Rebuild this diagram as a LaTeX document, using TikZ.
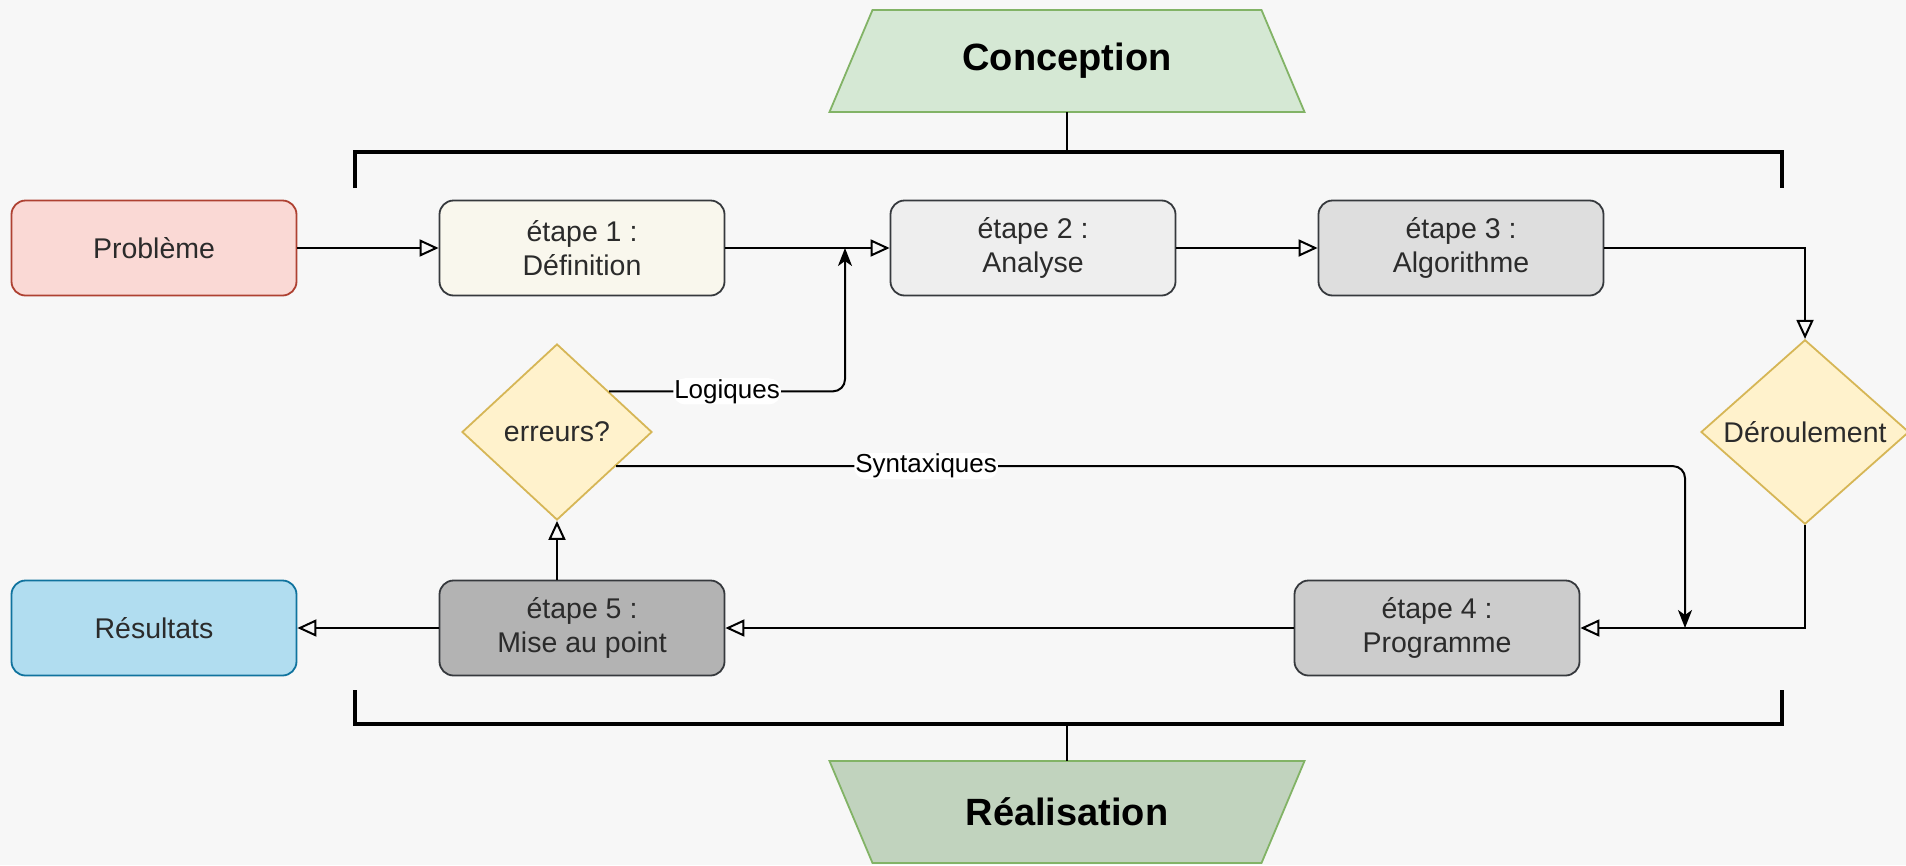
\documentclass[tikz,border=0pt]{standalone}
\usepackage{fontspec}
\setmainfont{Liberation Sans}
\usetikzlibrary{arrows.meta,shapes.geometric}

\definecolor{bg}{HTML}{F7F7F7}
\definecolor{txt}{HTML}{2B2B2B}
\definecolor{boxline}{HTML}{36393D}
\definecolor{redfill}{HTML}{FAD9D5}
\definecolor{redline}{HTML}{AE4132}
\definecolor{bluefill}{HTML}{B1DDF0}
\definecolor{blueline}{HTML}{10739E}
\definecolor{yellowfill}{HTML}{FFF2CC}
\definecolor{yellowline}{HTML}{D6B656}
\definecolor{greenfill}{HTML}{D5E8D4}
\definecolor{darkgreenfill}{HTML}{C1D3BE}
\definecolor{greenline}{HTML}{82B366}
\definecolor{fillA}{HTML}{F9F7ED}
\definecolor{fillB}{HTML}{EEEEEE}
\definecolor{fillC}{HTML}{DEDEDE}
\definecolor{fillD}{HTML}{CCCCCC}
\definecolor{fillE}{HTML}{B3B3B3}

\begin{document}
\begin{tikzpicture}[x=1pt, y=-1pt]

\def \boxw {285pt}
\def \boxh {95pt}

\tikzset{etape/.style = {align=center, draw=boxline, line width=1.8pt, rounded corners=14pt, minimum width=\boxw, minimum height=\boxh, text=txt, font=\fontsize{28.5}{34}\selectfont}}
\tikzset{choix/.style = {diamond, draw=yellowline, fill=yellowfill, line width=1.8pt, inner sep=0pt, text=txt, font=\fontsize{28.5}{34}\selectfont}}
\tikzset{titre/.style = {font=\bfseries\fontsize{38}{44}\selectfont, inner sep=0pt, minimum width=475pt, minimum height=102pt}}
\tikzset{flow/.style = {line width=2pt, -{Triangle[open, length=19pt, width=17pt]}}}
\tikzset{retour/.style = {line width=2pt, rounded corners=12pt, -{Stealth[length=18pt, width=14pt, inset=5pt]}}}
\tikzset{lbl/.style = {fill=white, inner sep=1pt, font=\fontsize{26}{30}\selectfont}}
\tikzset{bracket/.style = {line width=4.5pt}}

\useasboundingbox (0,0) rectangle (1906,865);
\fill[bg] (0,0) rectangle (1906,865);

% phases
\draw[greenline, fill=greenfill, line width=1.8pt] (872.5,10) -- (1261.5,10) -- (1304.5,112) -- (829.5,112) -- cycle;
\node[titre] (conc) at (1067,61) {Conception};
\draw[greenline, fill=darkgreenfill, line width=1.8pt] (829.5,761) -- (1304.5,761) -- (1261.5,863) -- (872.5,863) -- cycle;
\node[titre] (real) at (1067,812) {Réalisation};

\coordinate (topmid) at (1067,152);
\coordinate (botmid) at (1067,724);
\draw[bracket] (355,188) -- (355,152) -- (1782,152) -- (1782,188);
\draw[bracket] (355,690) -- (355,724) -- (1782,724) -- (1782,690);
\draw[line width=2pt] (conc.south) -- (topmid);
\draw[line width=2pt] (real.north) -- (botmid);

% boxes
\node[etape, draw=redline, fill=redfill] (prob) at (154,248) {Problème};
\node[etape, fill=fillA] (et1) at (582,248) {étape 1 :\\Définition};
\node[etape, fill=fillB] (et2) at (1033,248) {étape 2 :\\Analyse};
\node[etape, fill=fillC] (et3) at (1461,248) {étape 3 :\\Algorithme};
\node[etape, fill=fillD] (et4) at (1437,628) {étape 4 :\\Programme};
\node[etape, fill=fillE] (et5) at (582,628) {étape 5 :\\Mise au point};
\node[etape, draw=blueline, fill=bluefill] (res) at (154,628) {Résultats};

\node[choix, minimum width=208pt, minimum height=176pt] (der) at (1805,432) {Déroulement};
\node[choix, minimum width=190pt, minimum height=176pt] (err) at (557,432) {erreurs?};

% flow
\foreach \a/\b in {prob/et1, et1/et2, et2/et3, et4/et5, et5/res}
{
	\draw[flow] (\a) -- (\b);
}
\draw[flow] (err.south |- et5.north) -- (err.south);
\draw[flow] (et3.east) -| (der.north);
\draw[flow] (der.south) |- (et4.east);

% retours
\coordinate (joinA) at (845,248);
\coordinate (joinB) at (1685,628);
\draw[retour] (err.38) -| node[lbl, pos=0.25] (logi) {Logiques} (joinA);
\draw[retour] (err.-30) -| node[lbl, pos=0.145] (synt) {Syntaxiques} (joinB);

\end{tikzpicture}
\end{document}
